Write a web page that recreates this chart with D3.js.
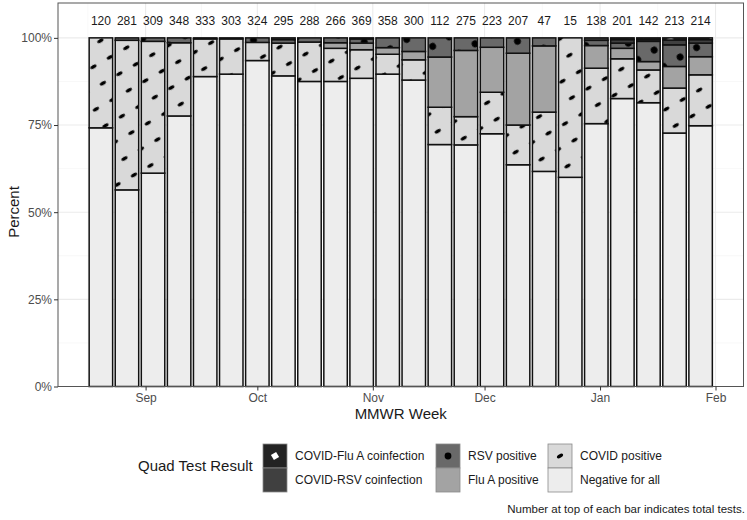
<!DOCTYPE html>
<html><head><meta charset="utf-8">
<script src="https://cdn.jsdelivr.net/npm/d3@7"></script>
<style>body{margin:0;background:#fff} svg{display:block;font-family:"Liberation Sans",Arial,sans-serif}</style>
</head><body><svg id="c" width="747" height="520"></svg>
<script>
// MMWR week ending dates
const weeks = ["2022-08-20","2022-08-27","2022-09-03","2022-09-10","2022-09-17","2022-09-24",
  "2022-10-01","2022-10-08","2022-10-15","2022-10-22","2022-10-29","2022-11-05","2022-11-12",
  "2022-11-19","2022-11-26","2022-12-03","2022-12-10","2022-12-17","2022-12-24","2022-12-31",
  "2023-01-07","2023-01-14","2023-01-21","2023-01-28"];
const totals = [120,281,309,348,333,303,324,295,288,266,369,358,300,112,275,223,207,47,15,138,201,142,213,214];
// Percent of tests per result (bottom to top of stack)
const negative  = [74.2,56.4,61.2,77.6,88.9,89.6,93.5,89.1,87.5,87.5,88.4,89.6,87.9,69.4,69.3,72.5,63.6,61.7,60.0,75.4,82.6,81.4,72.7,74.8];
const covidPos  = [25.8,42.9,37.8,21.0,10.8,10.1,5.2,9.4,11.3,9.5,8.2,5.7,5.8,10.7,8.1,11.9,11.4,17.0,40.0,15.9,11.4,9.4,12.9,14.6];
const fluAPos   = [0,0,0,0,0,0,0,0,0,1.6,1.9,1.9,2.4,14.4,19.0,12.9,20.6,19.0,0,6.5,3.0,2.4,6.2,5.2];
const rsvPos    = [0,0.7,1.0,1.4,0.3,0.3,1.3,1.0,1.2,1.4,1.2,2.8,3.9,5.5,3.6,2.7,4.4,2.3,0,1.5,1.5,5.8,6.2,3.9];
const covidRsv  = [0,0,0,0,0,0,0,0.5,0,0,0.3,0,0,0,0,0,0,0,0,0.7,1.0,0.5,1.4,1.0];
const covidFluA = [0,0,0,0,0,0,0,0,0,0,0,0,0,0,0,0,0,0,0,0,0.5,0.5,0.6,0.5];
const seriesNames = ["Negative for all","COVID positive","Flu A positive","RSV positive","COVID-RSV coinfection","COVID-Flu A coinfection"];
const seriesValues = [negative,covidPos,fluAPos,rsvPos,covidRsv,covidFluA];
const yTicks = [0,25,50,75,100];
const yMinor = [12.5,37.5,62.5,87.5];

const colors = {"Negative for all":"#ededed","COVID positive":"#d9d9d9","Flu A positive":"#a3a3a3",
  "RSV positive":"#696969","COVID-RSV coinfection":"#404040","COVID-Flu A coinfection":"#232323"};

const parse = d3.utcParse("%Y-%m-%d");
const rows = weeks.map((w,i)=>{const r={date:parse(w),total:totals[i]};seriesNames.forEach((s,k)=>r[s]=seriesValues[k][i]);return r;});

const svg = d3.select("#c");
const L=58, R=743.5, T=3, B=386.5;
const day = 864e5, half = 0.45*7*day;
const ext = d3.extent(rows,d=>d.date);
const lo = +ext[0]-half, hi = +ext[1]+half, pad=(hi-lo)*0.05;
const x = d3.scaleUtc().domain([new Date(lo-pad), new Date(hi+pad)]).range([L,R]);
const y = d3.scaleLinear().domain([0,110]).range([B,T]);

// patterns
const defs = svg.append("defs");
function lattice(id, bg, drawFn){
  const p = defs.append("pattern").attr("id",id).attr("patternUnits","userSpaceOnUse")
    .attr("width",19).attr("height",19).attr("patternTransform","rotate(-30)");
  p.append("rect").attr("width",19).attr("height",19).attr("fill",bg);
  drawFn(p);
}
lattice("pCovid", colors["COVID positive"], p=>p.append("ellipse").attr("cx",9.5).attr("cy",9.5).attr("rx",3.4).attr("ry",1.8).attr("fill","#000"));
lattice("pRsv", colors["RSV positive"], p=>p.append("circle").attr("cx",9.5).attr("cy",9.5).attr("r",3.4).attr("fill","#000"));
lattice("pCoFlu", colors["COVID-Flu A coinfection"], p=>p.append("rect").attr("x",6.5).attr("y",6.5).attr("width",6).attr("height",6).attr("fill","#fff"));
const fillOf = s => s==="COVID positive"?"url(#pCovid)":s==="RSV positive"?"url(#pRsv)":s==="COVID-Flu A coinfection"?"url(#pCoFlu)":colors[s];

// panel background + grid
svg.append("rect").attr("x",L).attr("y",T).attr("width",R-L).attr("height",B-T).attr("fill","#fff");
const months = x.ticks(d3.utcMonth.every(1));
const allMonths = d3.utcMonth.range(d3.utcMonth.floor(x.domain()[0]), d3.utcMonth.offset(x.domain()[1],1));
const minorX = [];
for(let i=0;i<allMonths.length-1;i++){const m=new Date((+allMonths[i]+ +allMonths[i+1])/2); if(x(m)>L&&x(m)<R) minorX.push(m);}
const g = svg.append("g");
g.selectAll(".mnx").data(minorX).join("line").attr("x1",d=>x(d)).attr("x2",d=>x(d)).attr("y1",T).attr("y2",B).attr("stroke","#f4f4f4").attr("stroke-width",0.6);
g.selectAll(".mny").data(yMinor).join("line").attr("x1",L).attr("x2",R).attr("y1",d=>y(d)).attr("y2",d=>y(d)).attr("stroke","#f4f4f4").attr("stroke-width",0.6);
g.selectAll(".mjx").data(months).join("line").attr("x1",d=>x(d)).attr("x2",d=>x(d)).attr("y1",T).attr("y2",B).attr("stroke","#ebebeb").attr("stroke-width",1.1);
g.selectAll(".mjy").data(yTicks).join("line").attr("x1",L).attr("x2",R).attr("y1",d=>y(d)).attr("y2",d=>y(d)).attr("stroke","#ebebeb").attr("stroke-width",1.1);

// bars
const stack = d3.stack().keys(seriesNames)(rows);
const bw = x(new Date(+ext[0]+half)) - x(new Date(+ext[0]-half));
svg.append("g").selectAll("g").data(stack).join("g")
  .attr("fill",d=>fillOf(d.key))
  .selectAll("rect").data(d=>d.filter(e=>e[1]-e[0]>0)).join("rect")
  .attr("x",d=>x(d.data.date)-bw/2).attr("width",bw)
  .attr("y",d=>y(d[1])).attr("height",d=>y(d[0])-y(d[1]))
  .attr("stroke","#111").attr("stroke-width",1.5);

// totals
svg.append("g").selectAll("text").data(rows).join("text")
  .attr("x",d=>x(d.date)).attr("y",y(105)).attr("dy","0.35em").attr("text-anchor","middle")
  .attr("font-size",12).attr("fill","#1a1a1a").text(d=>d.total);

// panel border
svg.append("rect").attr("x",L).attr("y",T).attr("width",R-L).attr("height",B-T).attr("fill","none").attr("stroke","#555").attr("stroke-width",1);

// axes
const ya = svg.append("g").attr("transform",`translate(${L},0)`)
  .call(d3.axisLeft(y).tickValues(yTicks).tickFormat(d=>d+"%").tickSize(4).tickPadding(2));
const xa = svg.append("g").attr("transform",`translate(0,${B})`)
  .call(d3.axisBottom(x).ticks(d3.utcMonth.every(1)).tickFormat(d3.utcFormat("%b")).tickSize(4).tickPadding(3));
[ya,xa].forEach(a=>{a.select(".domain").remove();a.selectAll("line").attr("stroke","#333");
  a.selectAll("text").attr("fill","#4d4d4d").attr("font-size",12).attr("font-family","Liberation Sans, Arial, sans-serif");});

svg.append("text").attr("x",(L+R)/2).attr("y",419).attr("text-anchor","middle").attr("font-size",15).attr("fill","#1a1a1a").text("MMWR Week");
svg.append("text").attr("transform","translate(19,212) rotate(-90)").attr("text-anchor","middle").attr("font-size",15).attr("fill","#1a1a1a").text("Percent");

// legend
const lg = svg.append("g");
lg.append("text").attr("x",138).attr("y",471).attr("font-size",15).attr("fill","#1a1a1a").text("Quad Test Result");
const legendOrder = ["COVID-Flu A coinfection","COVID-RSV coinfection","RSV positive","Flu A positive","COVID positive","Negative for all"];
const colX = [263,436,548];
legendOrder.forEach((s,i)=>{
  const cx = colX[Math.floor(i/2)], cy = 444 + (i%2)*24;
  const k = lg.append("g").attr("transform",`translate(${cx},${cy})`);
  k.append("rect").attr("width",24).attr("height",24).attr("fill",colors[s]).attr("stroke","#8a8a8a").attr("stroke-width",0.8);
  if(s==="COVID positive") k.append("ellipse").attr("cx",12).attr("cy",12).attr("rx",3.4).attr("ry",1.8).attr("transform","rotate(-30,12,12)").attr("fill","#000");
  if(s==="RSV positive") k.append("circle").attr("cx",12).attr("cy",12).attr("r",3.4).attr("fill","#000");
  if(s==="COVID-Flu A coinfection") k.append("rect").attr("x",9).attr("y",9).attr("width",6).attr("height",6).attr("transform","rotate(-30,12,12)").attr("fill","#fff");
  lg.append("text").attr("x",cx+32).attr("y",cy+12).attr("dy","0.35em").attr("font-size",12).attr("fill","#1a1a1a").text(s);
});
svg.append("text").attr("x",745).attr("y",513).attr("text-anchor","end").attr("font-size",11.5).attr("fill","#1a1a1a").text("Number at top of each bar indicates total tests.");
</script></body></html>
